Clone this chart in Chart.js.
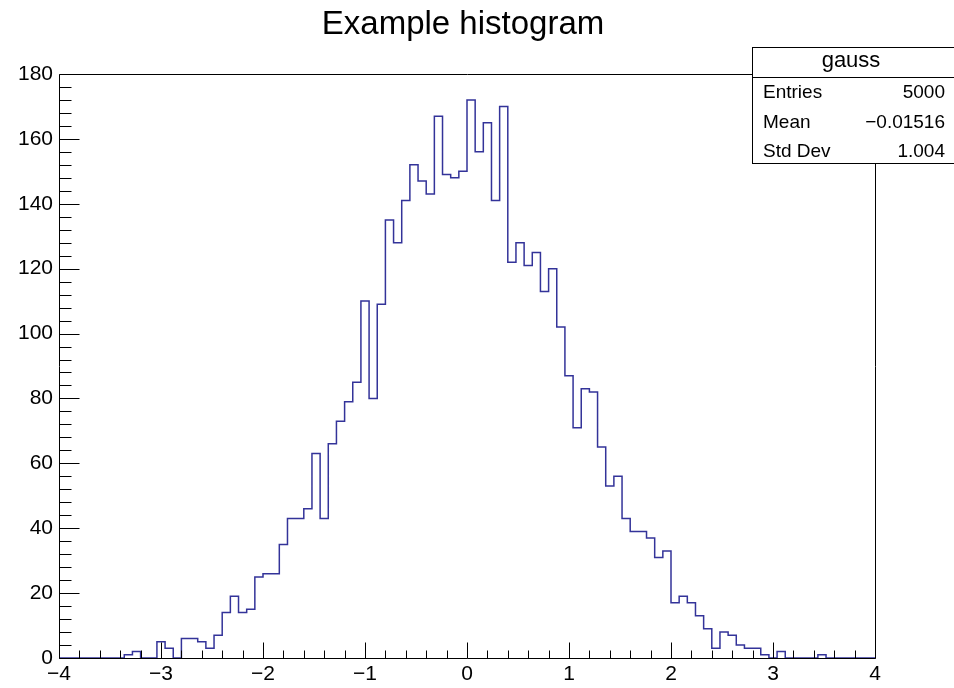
<!DOCTYPE html>
<html>
<head>
<meta charset="utf-8">
<title>Example histogram</title>
<script src="https://cdn.jsdelivr.net/npm/chart.js@4.4.1/dist/chart.umd.min.js"></script>
<style>
  html, body { margin: 0; padding: 0; background: #fff; }
  #histChart { display: block; }
</style>
</head>
<body>
<canvas id="histChart" width="954" height="688" style="width:954px;height:688px"></canvas>
<script>
// histogram "gauss": 100 bins between -4 and 4
const histTitle = 'Example histogram';
const histName = 'gauss';
const binLow = -4;
const binHigh = 4;
const binWidth = 0.08;
const binCounts = [
  0, 0, 0, 0, 0, 0, 0, 0, 1, 2,
  0, 0, 5, 3, 0, 6, 6, 5, 3, 7,
  14, 19, 14, 15, 25, 26, 26, 35, 43, 43,
  46, 63, 43, 66, 73, 79, 85, 110, 80, 109,
  135, 128, 141, 152, 147, 143, 167, 149, 148, 150,
  172, 156, 165, 141, 170, 122, 128, 121, 125, 113,
  120, 102, 87, 71, 83, 82, 65, 53, 56, 43,
  39, 39, 37, 31, 33, 17, 19, 17, 13, 9,
  3, 8, 7, 4, 3, 3, 1, 0, 2, 0,
  0, 0, 0, 1, 0, 0, 0, 0, 0, 0
];
const xTickValues = [-4, -3, -2, -1, 0, 1, 2, 3, 4];
const yTickValues = [0, 20, 40, 60, 80, 100, 120, 140, 160, 180];
const statLabels = ['Entries', 'Mean', 'Std Dev'];
const statValues = ['5000', '\u22120.01516', '1.004'];

// one point per bin low edge, plus the upper edge to close the last step
const histPoints = binCounts.map((c, i) => ({ x: binLow + i * binWidth, y: c }));
histPoints.push({ x: binHigh, y: 0 });

const minus = v => String(v).replace('-', '\u2212');
const FONT = '"Liberation Sans", Arial, Helvetica, sans-serif';

// ROOT style frame: inner ticks, axes over the histogram, title and stats box
const rootFrame = {
  id: 'rootFrame',
  afterDatasetsDraw(chart) {
    const { ctx, chartArea: a, scales: { x, y } } = chart;
    const L = Math.round(a.left) + 0.5, R = Math.round(a.right) + 0.5;
    const T = Math.round(a.top) + 0.5, B = Math.round(a.bottom) + 0.5;
    ctx.save();
    ctx.strokeStyle = '#000';
    ctx.lineWidth = 1;
    ctx.beginPath();
    ctx.rect(L, T, R - L, B - T);
    // x ticks every 0.2, major every 1
    for (let k = 0; k <= 40; k++) {
      const px = Math.round(x.getPixelForValue(binLow + k * 0.2)) + 0.5;
      const len = k % 5 === 0 ? 16 : 8;
      ctx.moveTo(px, B);
      ctx.lineTo(px, B - len);
    }
    // y ticks every 4, major every 20
    for (let k = 0; k <= 45; k++) {
      const py = Math.round(y.getPixelForValue(k * 4)) + 0.5;
      const len = k % 5 === 0 ? 20 : 12;
      ctx.moveTo(L, py);
      ctx.lineTo(L + len, py);
    }
    ctx.stroke();
    ctx.restore();
  },
  afterDraw(chart) {
    const { ctx } = chart;
    ctx.save();
    // title
    ctx.fillStyle = '#000';
    ctx.font = '33px ' + FONT;
    ctx.textAlign = 'center';
    ctx.textBaseline = 'alphabetic';
    ctx.fillText(histTitle, 463, 34);

    // stats box
    const bx = 752.5, by = 47.5, bw = 210, bh = 116;
    ctx.fillStyle = '#fff';
    ctx.fillRect(bx, by, bw, bh);
    ctx.strokeStyle = '#000';
    ctx.lineWidth = 1;
    ctx.strokeRect(bx, by, bw, bh);
    ctx.beginPath();
    ctx.moveTo(bx, 77.5);
    ctx.lineTo(bx + bw, 77.5);
    ctx.stroke();

    ctx.fillStyle = '#000';
    ctx.font = '22px ' + FONT;
    ctx.textAlign = 'center';
    ctx.fillText(histName, 851, 67);

    ctx.font = '19px ' + FONT;
    statLabels.forEach((lab, i) => {
      const base = 98 + i * 29.5;
      ctx.textAlign = 'left';
      ctx.fillText(lab, 763, base);
      ctx.textAlign = 'right';
      ctx.fillText(statValues[i], 945, base);
    });
    ctx.restore();
  }
};

const ctx = document.getElementById('histChart').getContext('2d');
new Chart(ctx, {
  type: 'line',
  data: {
    datasets: [{
      label: histName,
      data: histPoints,
      stepped: 'before',
      borderColor: '#333399',
      borderWidth: 1.5,
      pointRadius: 0,
      fill: false,
      tension: 0
    }]
  },
  options: {
    responsive: false,
    animation: false,
    layout: { padding: { left: 0, right: 79, top: 74, bottom: 0 } },
    plugins: {
      legend: { display: false },
      title: { display: false },
      tooltip: { enabled: false }
    },
    scales: {
      x: {
        type: 'linear',
        min: binLow,
        max: binHigh,
        afterBuildTicks: s => { s.ticks = xTickValues.map(v => ({ value: v })); },
        afterFit: s => { s.height = 30; },
        grid: { display: false, drawTicks: false },
        border: { display: false },
        ticks: {
          autoSkip: false,
          maxRotation: 0,
          padding: 4,
          color: '#000',
          font: { family: FONT, size: 21 },
          callback: v => minus(v)
        }
      },
      y: {
        type: 'linear',
        min: 0,
        max: 180,
        afterBuildTicks: s => { s.ticks = yTickValues.map(v => ({ value: v })); },
        afterFit: s => { s.width = 59; },
        grid: { display: false, drawTicks: false },
        border: { display: false },
        ticks: {
          autoSkip: false,
          padding: 6,
          color: '#000',
          font: { family: FONT, size: 21 },
          callback: v => minus(v)
        }
      }
    }
  },
  plugins: [rootFrame]
});
</script>
</body>
</html>
